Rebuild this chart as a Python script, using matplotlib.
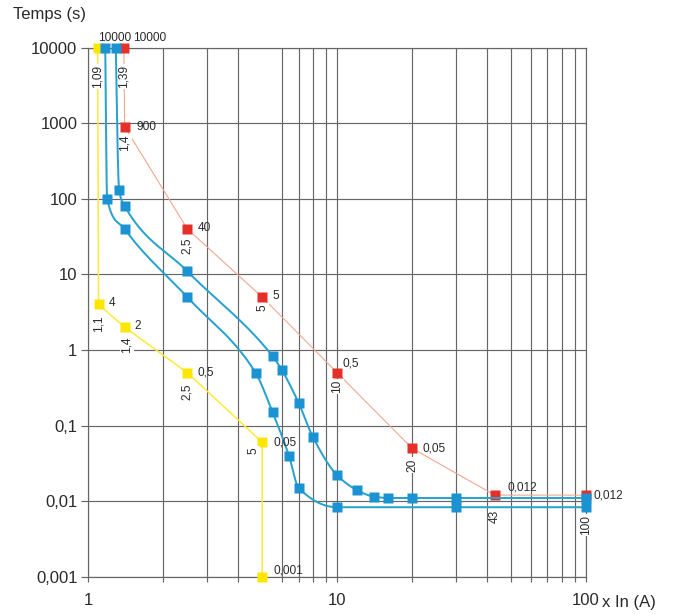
import numpy as np
import matplotlib
matplotlib.use("Agg")
import matplotlib.pyplot as plt
from matplotlib.ticker import NullLocator

plt.rcParams['font.family'] = ['Liberation Sans', 'DejaVu Sans']

# ---- data (current in x In, time in s) ----
yellow_x = [1.09, 1.1, 1.4, 2.5, 5, 5]
yellow_t = [10000, 4, 2, 0.5, 0.06, 0.001]
yellow_t_labels = ['10000', '4', '2', '0,5', '0,05', '0,001']
yellow_x_labels = ['1,09', '1,1', '1,4', '2,5', '5', None]

red_x = [1.39, 1.4, 2.5, 5, 10, 20, 43, 100]
red_t = [10000, 900, 40, 5, 0.5, 0.05, 0.012, 0.012]
red_t_labels = ['10000', '900', '40', '5', '0,5', '0,05', '0,012', '0,012']
red_x_labels = ['1,39', '1,4', '2,5', '5', '10', '20', '43', '100']

blue1_x = [1.17, 1.19, 1.4, 2.5, 4.7, 5.5, 6.4, 7, 10, 30, 100]
blue1_t = [10000, 100, 40, 5, 0.5, 0.15, 0.04, 0.015, 0.0083, 0.0083, 0.0083]

blue2_x = [1.29, 1.33, 1.4, 2.5, 5.5, 6, 7, 8, 10, 12, 14, 16, 20, 30, 100]
blue2_t = [10000, 130, 80, 11, 0.83, 0.54, 0.2, 0.07, 0.022, 0.014, 0.0115,
           0.011, 0.011, 0.011, 0.011]

y_ticks = [0.001, 0.01, 0.1, 1, 10, 100, 1000, 10000]
y_tick_labels = ['0,001', '0,01', '0,1', '1', '10', '100', '1000', '10000']
x_ticks = [1, 10, 100]
x_tick_labels = ['1', '10', '100']
x_minor = [2, 3, 4, 6, 7, 8, 9, 20, 30, 40, 50, 60, 70, 80, 90]

YELLOW = '#FFE600'
YELLOW_LINE = '#FFE93A'
BLUE = '#1B93D3'
BLUE_LINE = '#29A3CD'
RED = '#E5302A'
RED_LINE = '#F0A88F'
GRID = '#666666'
TXT = '#2a2a2a'


def smooth_curve(xv, yv, n=40):
    # monotone cubic (pchip) through the points, in log-log space
    lx = np.log10(xv)
    ly = np.log10(yv)
    h = np.diff(lx)
    d = np.diff(ly) / h
    k = len(lx)
    m = np.zeros(k)
    for i in range(1, k - 1):
        if d[i - 1] * d[i] > 0:
            w1 = 2 * h[i] + h[i - 1]
            w2 = h[i] + 2 * h[i - 1]
            m[i] = (w1 + w2) / (w1 / d[i - 1] + w2 / d[i])
    m[0] = ((2 * h[0] + h[1]) * d[0] - h[0] * d[1]) / (h[0] + h[1])
    if np.sign(m[0]) != np.sign(d[0]):
        m[0] = 0
    m[-1] = ((2 * h[-1] + h[-2]) * d[-1] - h[-1] * d[-2]) / (h[-1] + h[-2])
    if np.sign(m[-1]) != np.sign(d[-1]):
        m[-1] = 0
    xs, ys = [], []
    for i in range(k - 1):
        s = np.linspace(0, 1, n)
        h00 = 2 * s**3 - 3 * s**2 + 1
        h10 = s**3 - 2 * s**2 + s
        h01 = -2 * s**3 + 3 * s**2
        h11 = s**3 - s**2
        xs.append(lx[i] + s * h[i])
        ys.append(h00 * ly[i] + h10 * h[i] * m[i] + h01 * ly[i + 1] + h11 * h[i] * m[i + 1])
    return 10 ** np.concatenate(xs), 10 ** np.concatenate(ys)


fig = plt.figure(figsize=(6.73, 6.14), dpi=100)
ax = fig.add_axes([0.1312, 0.0608, 0.7395, 0.8615])
ax.set_xscale('log')
ax.set_yscale('log')
ax.set_xlim(1, 100)
ax.set_ylim(0.001, 10000)

ax.set_yticks(y_ticks, y_tick_labels)
ax.yaxis.set_minor_locator(NullLocator())
ax.set_xticks(x_ticks, x_tick_labels)
ax.set_xticks(x_minor, minor=True)
ax.set_xticklabels([], minor=True)

ax.grid(True, which='major', color=GRID, lw=0.85)
ax.grid(True, which='minor', axis='x', color=GRID, lw=0.85)
ax.set_axisbelow(True)
for sp in ax.spines.values():
    sp.set_color(GRID)
    sp.set_linewidth(0.85)
ax.tick_params(axis='x', which='both', direction='out', length=3.6, width=0.85,
               color=GRID, labelsize=12, labelcolor=TXT, pad=8)
ax.tick_params(axis='y', which='both', direction='out', length=4.8, width=0.85,
               color=GRID, labelsize=12, labelcolor=TXT, pad=3)

# red curve
ax.plot(red_x, red_t, color=RED_LINE, lw=0.8, zorder=2, clip_on=False)
ax.plot(red_x, red_t, 's', color=RED, ms=6.6, mec='none', zorder=3, clip_on=False)

# yellow curve
ax.plot(yellow_x, yellow_t, color=YELLOW_LINE, lw=1.1, zorder=2, clip_on=False)
ax.plot(yellow_x, yellow_t, 's', color=YELLOW, ms=6.6, mec='none', zorder=3, clip_on=False)

# blue curves
for bx, bt in [(blue1_x, blue1_t), (blue2_x, blue2_t)]:
    sx, sy = smooth_curve(bx, bt)
    ax.plot(sx, sy, color=BLUE_LINE, lw=1.45, zorder=4, clip_on=False)
    ax.plot(bx, bt, 's', color=BLUE, ms=7, mec='none', zorder=5, clip_on=False)

# labels: time value to the right, current value rotated below
yellow_t_off = [(0, 10), (10, 1), (10, 1), (10, 0), (11, 0), (11, 6)]
yellow_x_off = [(0, -17), (0, -11), (2, -9), (0, -11), (-9, -5), None]
red_t_off = [(9, 10), (12, 0), (10, 1), (10, 1), (5, 9), (10, 0), (13, 8), (8, 0)]
red_x_off = [(0, -17), (0, -8), (0, -9), (0, -7), (0, -7), (0, -10), (0, -15), (0, -20)]

for xs_, ts_, tl, xl, toff, xoff in [
        (yellow_x, yellow_t, yellow_t_labels, yellow_x_labels, yellow_t_off, yellow_x_off),
        (red_x, red_t, red_t_labels, red_x_labels, red_t_off, red_x_off)]:
    for i in range(len(xs_)):
        ax.annotate(tl[i], (xs_[i], ts_[i]), xytext=toff[i], textcoords='offset pixels',
                    ha='left', va='center', fontsize=8.6, color=TXT,
                    annotation_clip=False, zorder=6)
        if xl[i] is not None:
            ax.annotate(xl[i], (xs_[i], ts_[i]), xytext=xoff[i], textcoords='offset pixels',
                        ha='center', va='top', rotation=90, fontsize=8.6, color=TXT,
                        annotation_clip=False, zorder=3.5,
                        bbox=dict(fc='white', ec='none', pad=0.8))

fig.text(13 / 673, 1 - 15 / 614, 'Temps (s)', ha='left', va='center',
         fontsize=12, color=TXT)
fig.text(602 / 673, 1 - 602 / 614, 'x In (A)', ha='left', va='center',
         fontsize=12, color=TXT)

fig.savefig('out.png', dpi=100)
